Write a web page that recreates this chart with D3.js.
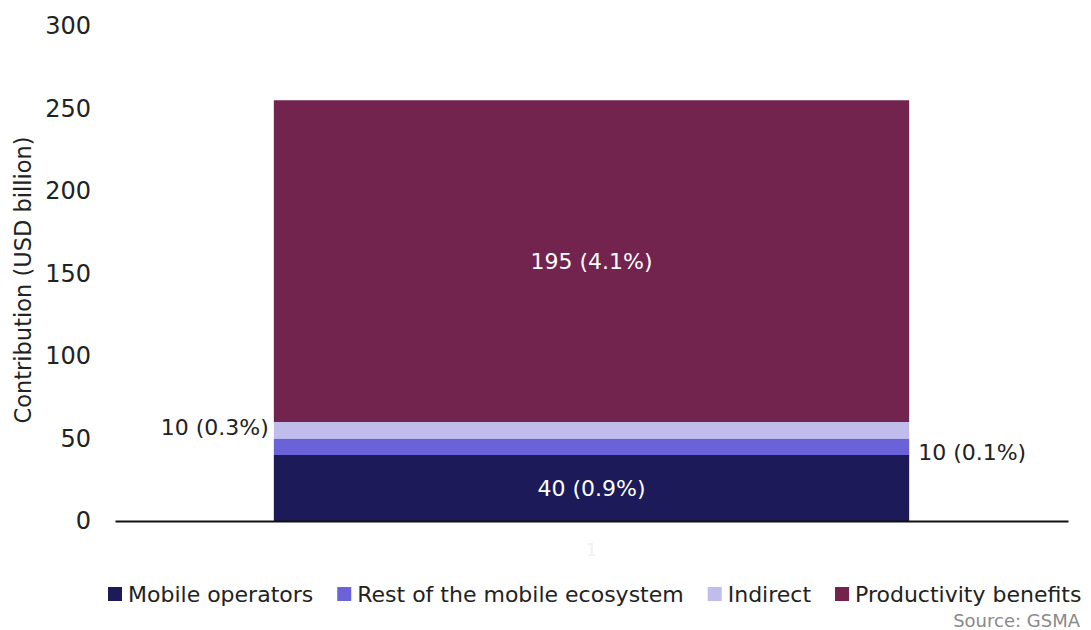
<!DOCTYPE html>
<html>
<head>
<meta charset="utf-8">
<script src="https://cdn.jsdelivr.net/npm/d3@7"></script>
<style>
  body { margin: 0; background: #fff; }
  svg { display: block; }
  text { font-family: "DejaVu Sans", "Liberation Sans", sans-serif; }
</style>
</head>
<body>
<svg id="chart" width="1091" height="630"></svg>
<script>
// Economic contribution by component (USD billion)
const categories = ["1"];
const seriesNames = ["Mobile operators", "Rest of the mobile ecosystem", "Indirect", "Productivity benefits"];
const seriesValues = [40, 10, 10, 195];
const seriesLabels = ["40 (0.9%)", "10 (0.1%)", "10 (0.3%)", "195 (4.1%)"];
const seriesColors = ["#1c1a58", "#6a62d6", "#c0bcec", "#72234e"];
const yTicks = [0, 50, 100, 150, 200, 250, 300];

const FONT = "DejaVu Sans, Liberation Sans, sans-serif";
const svg = d3.select("#chart");

const x = d3.scaleBand().domain(categories).range([115, 1068]).padding(0.2);
const y = d3.scaleLinear().domain([0, 300]).range([521, 26]);

// stacked segments
const row = { cat: categories[0] };
seriesNames.forEach((n, i) => row[n] = seriesValues[i]);
const stacked = d3.stack().keys(seriesNames)([row]);

svg.append("g").selectAll("rect")
  .data(stacked)
  .join("rect")
  .attr("x", d => x(d[0].data.cat))
  .attr("width", x.bandwidth())
  .attr("y", d => y(d[0][1]))
  .attr("height", d => y(d[0][0]) - y(d[0][1]))
  .attr("fill", (d, i) => seriesColors[i]);

// y axis (labels only)
const yAxis = d3.axisLeft(y).tickValues(yTicks).tickSize(0).tickPadding(0);
const gy = svg.append("g").attr("transform", "translate(91,0)").call(yAxis);
gy.select(".domain").remove();
gy.selectAll("text")
  .attr("font-size", 24)
  .attr("fill", "#222")
  .attr("font-family", FONT);

// category axis along the baseline
const xAxis = d3.axisBottom(x).tickSize(0).tickPadding(22);
const gx = svg.append("g").attr("transform", `translate(0,${y(0)})`).call(xAxis);
gx.select(".domain").attr("stroke", "#111").attr("stroke-width", 2.2);
gx.selectAll("text").attr("font-size", 18).attr("fill", "#f1f1f1")
  .attr("font-family", FONT);

// y axis title
svg.append("text")
  .attr("transform", "translate(31,280) rotate(-90)")
  .attr("text-anchor", "middle")
  .attr("font-size", 22.5)
  .attr("fill", "#222")
  .text("Contribution (USD billion)");

// value labels
const bx0 = x(categories[0]);
const bx1 = bx0 + x.bandwidth();
const mid = d => (y(d[0][0]) + y(d[0][1])) / 2;
const lab = svg.append("g").attr("font-size", 22);

// inside labels: operators and productivity
[0, 3].forEach(i => {
  lab.append("text")
    .attr("x", (bx0 + bx1) / 2)
    .attr("y", mid(stacked[i]))
    .attr("dy", "0.35em")
    .attr("text-anchor", "middle")
    .attr("fill", "#fff")
    .text(seriesLabels[i]);
});
// rest of ecosystem to the right of the bar
lab.append("text")
  .attr("x", bx1 + 9)
  .attr("y", y(seriesValues[0] + seriesValues[1] / 2) + 6)
  .attr("dy", "0.35em")
  .attr("fill", "#222")
  .text(seriesLabels[1]);
// indirect to the left of the bar
lab.append("text")
  .attr("x", bx0 - 5)
  .attr("y", mid(stacked[2]) - 3)
  .attr("dy", "0.35em")
  .attr("text-anchor", "end")
  .attr("fill", "#222")
  .text(seriesLabels[2]);

// legend
const legend = svg.append("g").attr("transform", "translate(108,594)");
let lx = 0;
seriesNames.forEach((n, i) => {
  const g = legend.append("g").attr("transform", `translate(${lx},0)`);
  g.append("rect").attr("x", 0).attr("y", -7).attr("width", 14).attr("height", 14)
    .attr("fill", seriesColors[i]);
  const t = g.append("text").attr("x", 20).attr("dy", "0.35em")
    .attr("font-size", 22).attr("fill", "#222").text(n);
  lx += 20 + t.node().getComputedTextLength() + 24;
});

// source note
svg.append("text")
  .attr("x", 1080).attr("y", 621)
  .attr("dy", "0.35em")
  .attr("text-anchor", "end")
  .attr("font-size", 18)
  .attr("fill", "#8a8a8a")
  .text("Source: GSMA");
</script>
</body>
</html>
